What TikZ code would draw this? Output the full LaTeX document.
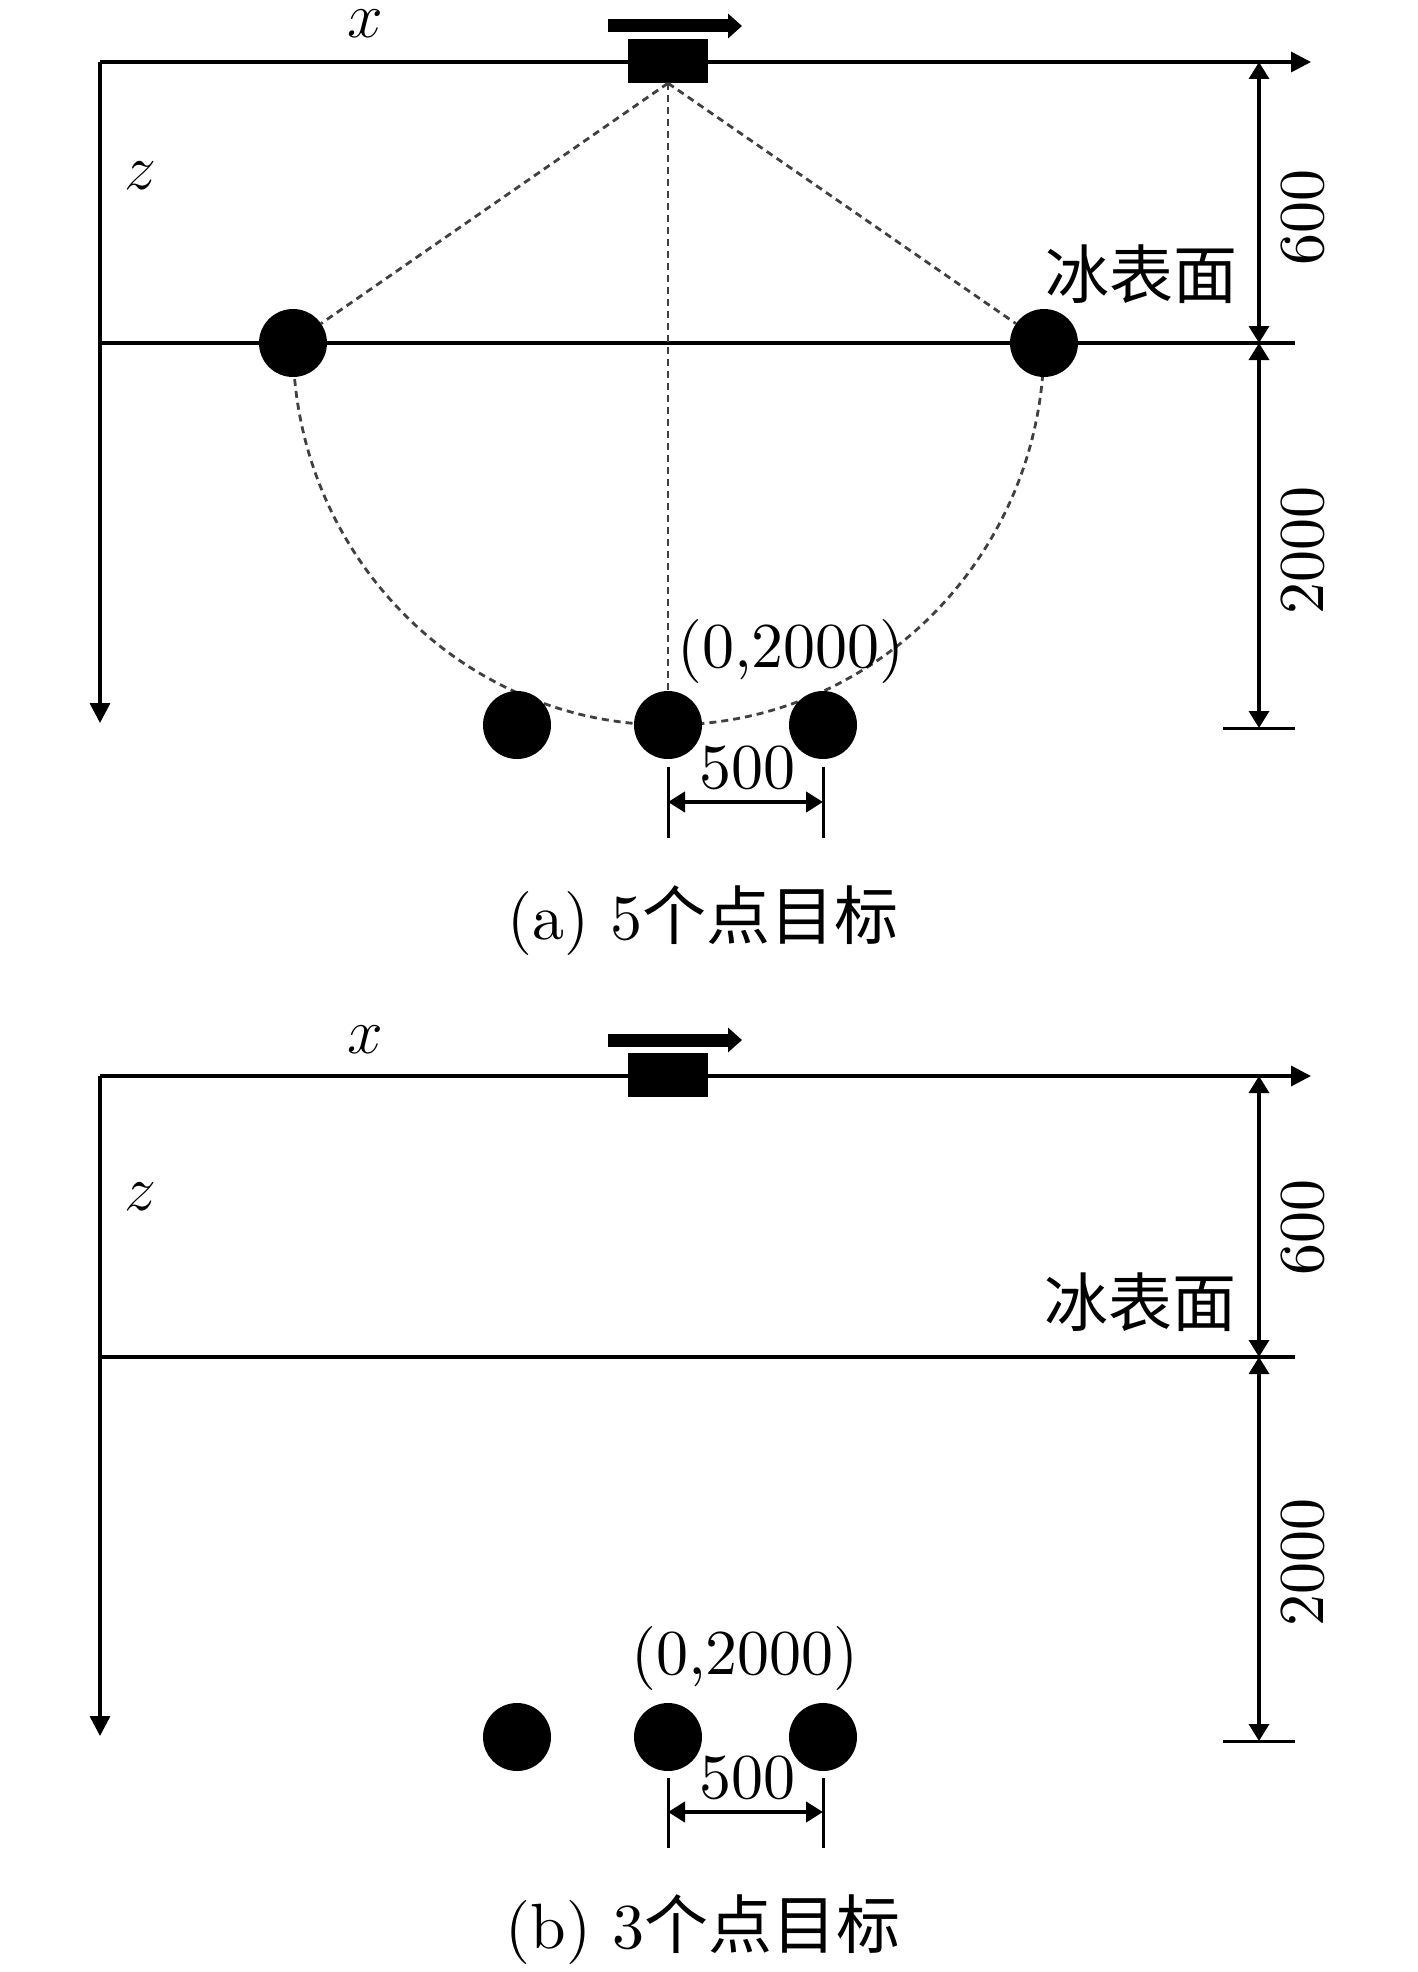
\RequirePackage{fix-cm}
\documentclass[tikz,border=0pt]{standalone}
\usepackage{fontspec}
\setmainfont{lmroman10-regular}[Extension=.otf]
\newfontfamily\cjk{Noto Sans CJK SC}
\usetikzlibrary{arrows.meta}
\begin{document}
\begin{tikzpicture}[x=1pt,y=-1pt,
  lbl/.style={font=\fontsize{64}{72}\selectfont, inner sep=0pt},
  axis/.style={line width=3.5pt},
  axtip/.style={-{Triangle[length=20pt,width=20pt]}},
  dimln/.style={line width=3.5pt,{Triangle[length=17pt,width=20pt]}-{Triangle[length=17pt,width=20pt]}},
  tickln/.style={line width=3pt},
  iceln/.style={line width=4pt},
  target/.style={circle,fill=black,minimum size=68pt,inner sep=0pt},
  sensorbox/.style={rectangle,fill=black,minimum width=80pt,minimum height=44pt,inner sep=0pt},
  movearrow/.style={line width=13pt,-{Triangle[length=14pt,width=24pt]}},
  raypath/.style={line width=2.8pt,black!75,dash pattern=on 7pt off 5pt},
]
\useasboundingbox (0,0) rectangle (1417,1972);

% ================= panel (a) =================
\coordinate (aO) at (100,62);
\coordinate (aZend) at (100,723);
\coordinate (aXend) at (1311,62);
\coordinate (aIceL) at (100,343);
\coordinate (aIceR) at (1295,343);
\coordinate (aL) at (293,343);
\coordinate (aR) at (1044,343);
\draw[axis,axtip] (aO) -- (aXend);
\draw[axis,axtip] (aO) -- (aZend);
\draw[iceln] (aIceL) -- (aIceR);
\draw[raypath] (aL) arc[start angle=180,end angle=0,x radius=375.5,y radius=382];
\node[sensorbox] (aS) at (668,61) {};
\node[target] (aT1) at (aL) {};
\node[target] (aT2) at (aR) {};
\node[target] (aT3) at (517,725) {};
\node[target] (aT0) at (668,725) {};
\node[target] (aT4) at (823,725) {};
\draw[raypath] (aS.south) -- (aT1);
\draw[raypath] (aS.south) -- (aT2);
\draw[raypath] (aS.south) -- (aT0);
\coordinate (aMv0) at (608,26);
\coordinate (aMv1) at (742,26);
\draw[movearrow] (aMv0) -- (aMv1);
% dimensions
\coordinate (aD0) at (1259,62);
\coordinate (aD1) at (1259,343);
\coordinate (aD2) at (1259,728);
\coordinate (aTk0) at (1223,728);
\coordinate (aTk1) at (1295,728);
\draw[dimln] (aD0) -- (aD1);
\draw[dimln] (aD1) -- (aD2);
\draw[tickln] (aTk0) -- (aTk1);
\coordinate (aW0t) at (668,767);
\coordinate (aW0b) at (668,838);
\coordinate (aW1t) at (823,767);
\coordinate (aW1b) at (823,838);
\coordinate (aW0) at (668,802);
\coordinate (aW1) at (823,802);
\draw[tickln] (aW0t) -- (aW0b);
\draw[tickln] (aW1t) -- (aW1b);
\draw[dimln,line width=4.5pt] (aW0) -- (aW1);
% labels
\node[lbl] (aXl) at (365,24) {$x$};
\node[lbl] (aZl) at (140,176) {$z$};
\node[lbl,anchor=east] (aIce) at (1238,274) {\cjk 冰表面};
\node[lbl,rotate=90] (a600) at (1303,217) {600};
\node[lbl,rotate=90] (a2000) at (1303,550) {2000};
\node[lbl] (aCoord) at (791,651) {(0,2000)};
\node[lbl] (a500) at (747,768) {500};
\node[lbl,anchor=base] (aCap) at (703,939) {(a) 5{\cjk 个点目标}};

% ================= panel (b) =================
\coordinate (bO) at (100,1076);
\coordinate (bZend) at (100,1736);
\coordinate (bXend) at (1311,1076);
\coordinate (bIceL) at (100,1357);
\coordinate (bIceR) at (1295,1357);
\draw[axis,axtip] (bO) -- (bXend);
\draw[axis,axtip] (bO) -- (bZend);
\draw[iceln] (bIceL) -- (bIceR);
\node[sensorbox] (bS) at (668,1075) {};
\node[target] (bT3) at (517,1737) {};
\node[target] (bT0) at (668,1737) {};
\node[target] (bT4) at (823,1737) {};
\coordinate (bMv0) at (608,1040);
\coordinate (bMv1) at (742,1040);
\draw[movearrow] (bMv0) -- (bMv1);
% dimensions
\coordinate (bD0) at (1259,1076);
\coordinate (bD1) at (1259,1357);
\coordinate (bD2) at (1259,1741);
\coordinate (bTk0) at (1223,1741);
\coordinate (bTk1) at (1295,1741);
\draw[dimln] (bD0) -- (bD1);
\draw[dimln] (bD1) -- (bD2);
\draw[tickln] (bTk0) -- (bTk1);
\coordinate (bW0t) at (668,1778);
\coordinate (bW0b) at (668,1848);
\coordinate (bW1t) at (823,1778);
\coordinate (bW1b) at (823,1848);
\coordinate (bW0) at (668,1812);
\coordinate (bW1) at (823,1812);
\draw[tickln] (bW0t) -- (bW0b);
\draw[tickln] (bW1t) -- (bW1b);
\draw[dimln,line width=4.5pt] (bW0) -- (bW1);
% labels
\node[lbl] (bXl) at (365,1040) {$x$};
\node[lbl] (bZl) at (140,1197) {$z$};
\node[lbl,anchor=east] (bIce) at (1237,1302) {\cjk 冰表面};
\node[lbl,rotate=90] (b600) at (1303,1227) {600};
\node[lbl,rotate=90] (b2000) at (1303,1562) {2000};
\node[lbl] (bCoord) at (745,1658) {(0,2000)};
\node[lbl] (b500) at (747,1778) {500};
\node[lbl,anchor=base] (bCap) at (703,1948) {(b) 3{\cjk 个点目标}};
\end{tikzpicture}
\end{document}
